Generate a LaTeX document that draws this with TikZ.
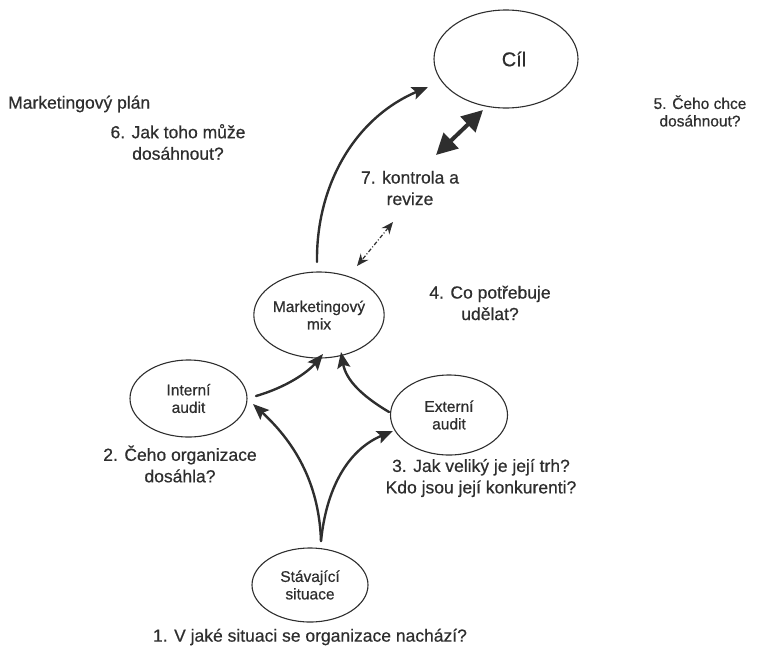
\documentclass[tikz,border=0pt]{standalone}
\usepackage{fontspec}
\setmainfont{Liberation Sans}[FakeBold=0.6]
\usetikzlibrary{shapes.geometric,arrows.meta}
\definecolor{ink}{HTML}{2E2E2E}
\begin{document}
\begin{tikzpicture}[x=1pt,y=-1pt,
  every node/.style={text=ink},
  oval/.style={ellipse, draw=ink, line width=1.1pt, inner sep=0pt, align=center,
    font=\fontsize{15.5}{17.5}\selectfont},
  lab/.style={align=center, inner sep=0pt, font=\fontsize{17.5}{21.5}\selectfont},
  flow/.style={draw=ink, line width=2.4pt, line cap=round,
    -{Stealth[length=16pt,width=13pt,inset=3pt]}},
  bigboth/.style={draw=ink, line width=4pt,
    {Triangle[length=21pt,width=21pt]}-{Triangle[length=21pt,width=21pt]}},
  dashboth/.style={draw=ink, line width=1.2pt, dash pattern=on 4pt off 2pt on 1pt off 2pt,
    {Stealth[length=12pt,width=10pt]}-{Stealth[length=12pt,width=10pt]}}
]
\useasboundingbox (0,0) rectangle (762,651);

% nodes
\node[oval, minimum width=144pt, minimum height=98pt,
      font=\fontsize{20}{24}\selectfont] (cil) at (506,59) {\hspace*{16pt}Cíl};
\node[oval, minimum width=118pt, minimum height=86pt] (mix) at (319,315) {Marketingový\\mix};
\node[oval, minimum width=117pt, minimum height=77pt] (int) at (188.5,398.5) {Interní\\audit};
\node[oval, minimum width=117pt, minimum height=80pt] (ext) at (449,415) {Externí\\audit};
\node[oval, minimum width=116pt, minimum height=74pt] (sit) at (310,585) {Stávající\\situace};

% labels
\node[lab, anchor=west] (plan) at (8,104) {Marketingový plán};
\node[lab, font=\fontsize{15.5}{17.5}\selectfont] (q5) at (700,111) {5. Čeho chce\\dosáhnout?};
\node[lab] (q6) at (178,142) {6. Jak toho může\\dosáhnout?};
\node[lab] (q7) at (410,188) {7. kontrola a\\revize};
\node[lab] (q4) at (490,303) {4. Co potřebuje\\udělat?};
\node[lab] (q2) at (180,464) {2. Čeho organizace\\dosáhla?};
\node[lab] (q3) at (481,478) {3. Jak veliký je její trh?\\Kdo jsou její konkurenti?};
\node[lab] (q1) at (310,637) {1. V jaké situaci se organizace nachází?};

% connector end points
\coordinate (sittop) at (321,541);
\coordinate (intin) at (253,404);
\coordinate (extin) at (393,431);
\coordinate (intout) at (256,396);
\coordinate (extout) at (389,412);
\coordinate (mixinL) at (323,354);
\coordinate (mixinR) at (341,352);
\coordinate (mixtop) at (317,262);
\coordinate (cilin) at (428,87);
\coordinate (cilA) at (483,110);
\coordinate (cilB) at (436,155);
\coordinate (revA) at (393,222);
\coordinate (revB) at (357,266);

% connectors
\draw[flow] (sittop) .. controls (319,480) and (292,440) .. (intin);
\draw[flow] (sittop) .. controls (327,482) and (352,448) .. (extin);
\draw[flow] (intout) .. controls (287,387) and (308,372) .. (mixinL);
\draw[flow] (extout) .. controls (362,396) and (346,380) .. (mixinR);
\draw[flow] (mixtop) .. controls (316,185) and (355,118) .. (cilin);
\draw[bigboth] (cilA) -- (cilB);
\draw[dashboth] (revA) -- (revB);
\end{tikzpicture}
\end{document}
